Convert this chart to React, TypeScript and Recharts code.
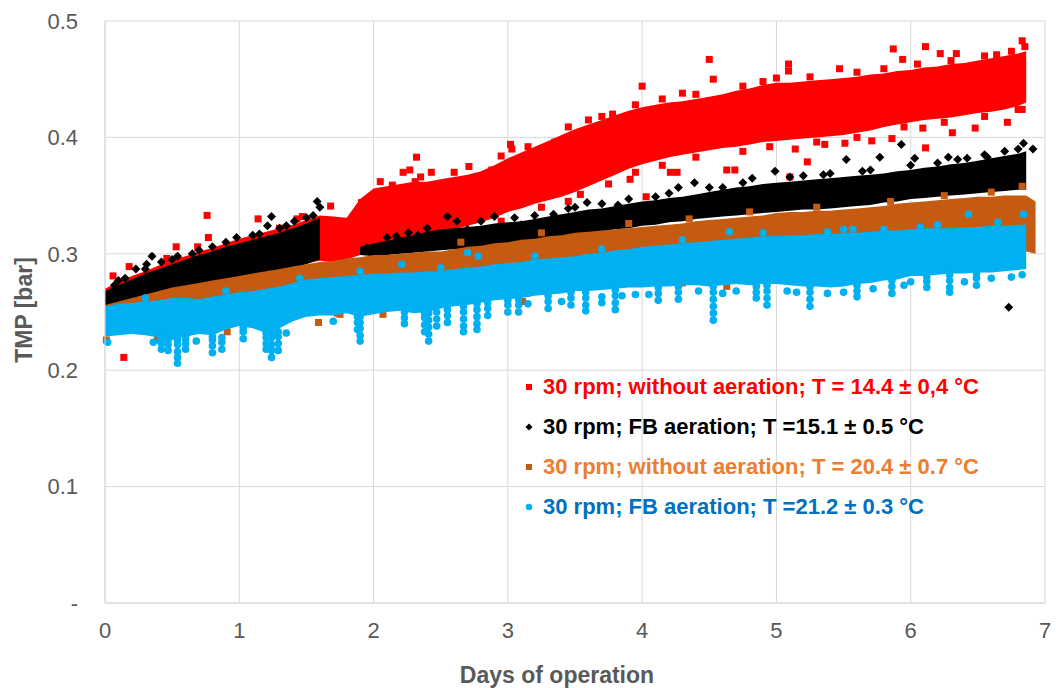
import React from 'react';
import { ComposedChart, Area, Scatter, XAxis, YAxis, CartesianGrid, Label } from 'recharts';

// ---- data ----
const DAYS = [
  0.0, 0.1, 0.2, 0.3, 0.4, 0.5, 0.6, 0.7, 0.8, 0.9,
  1.0, 1.1, 1.2, 1.3, 1.4, 1.5, 1.6, 1.7, 1.8, 1.9,
  2.0, 2.1, 2.2, 2.3, 2.4, 2.5, 2.6, 2.7, 2.8, 2.9,
  3.0, 3.1, 3.2, 3.3, 3.4, 3.5, 3.6, 3.7, 3.8, 3.9,
  4.0, 4.1, 4.2, 4.3, 4.4, 4.5, 4.6, 4.7, 4.8, 4.9,
  5.0, 5.1, 5.2, 5.3, 5.4, 5.5, 5.6, 5.7, 5.8, 5.9,
  6.0, 6.1, 6.2, 6.3, 6.4, 6.5, 6.6, 6.7, 6.8, 6.86, 6.93,
];

// dense core of each series (lower / upper edge)
const RED_LO = [
  0.250, 0.254, 0.258, 0.261, 0.264, 0.267, 0.270, 0.273, 0.275, 0.278,
  0.280, 0.282, 0.285, 0.287, 0.289, 0.292, 0.294, 0.293, 0.295, 0.299,
  0.303, 0.306, 0.309, 0.311, 0.314, 0.318, 0.321, 0.324, 0.327, 0.331,
  0.336, 0.339, 0.343, 0.346, 0.349, 0.353, 0.358, 0.363, 0.368, 0.373,
  0.377, 0.380, 0.383, 0.385, 0.387, 0.389, 0.391, 0.392, 0.394, 0.396,
  0.397, 0.398, 0.399, 0.400, 0.401, 0.402, 0.404, 0.406, 0.409, 0.411,
  0.413, 0.415, 0.416, 0.417, 0.419, 0.421, 0.422, 0.424, 0.427, 0.430, null,
];
const RED_HI = [
  0.270, 0.276, 0.281, 0.285, 0.290, 0.295, 0.298, 0.302, 0.305, 0.309,
  0.313, 0.316, 0.319, 0.322, 0.325, 0.329, 0.333, 0.332, 0.331, 0.347,
  0.356, 0.358, 0.360, 0.362, 0.362, 0.364, 0.366, 0.368, 0.371, 0.376,
  0.382, 0.387, 0.392, 0.397, 0.402, 0.407, 0.411, 0.415, 0.419, 0.423,
  0.426, 0.428, 0.430, 0.431, 0.433, 0.435, 0.437, 0.440, 0.442, 0.445,
  0.447, 0.447, 0.448, 0.449, 0.450, 0.451, 0.452, 0.454, 0.455, 0.457,
  0.458, 0.460, 0.461, 0.463, 0.464, 0.466, 0.468, 0.470, 0.472, 0.474, null,
];
const BLACK_LO = [
  0.252, 0.256, 0.259, 0.262, 0.265, 0.267, 0.269, 0.271, 0.273, 0.276,
  0.278, 0.280, 0.282, 0.285, 0.288, 0.291, 0.295, null, null, 0.299,
  0.298, 0.299, 0.300, 0.301, 0.302, 0.303, 0.304, 0.305, 0.306, 0.307,
  0.308, 0.309, 0.311, 0.313, 0.314, 0.316, 0.318, 0.319, 0.321, 0.322,
  0.324, 0.325, 0.327, 0.328, 0.330, 0.331, 0.332, 0.333, 0.334, 0.335,
  0.336, 0.337, 0.338, 0.338, 0.339, 0.340, 0.341, 0.342, 0.344, 0.345,
  0.347, 0.348, 0.349, 0.350, 0.351, 0.352, 0.353, 0.354, 0.355, 0.355, null,
];
const BLACK_HI = [
  0.268, 0.273, 0.278, 0.283, 0.287, 0.291, 0.295, 0.299, 0.302, 0.306,
  0.309, 0.312, 0.315, 0.318, 0.322, 0.326, 0.331, null, null, 0.306,
  0.309, 0.311, 0.314, 0.316, 0.319, 0.321, 0.322, 0.323, 0.324, 0.326,
  0.327, 0.328, 0.330, 0.332, 0.334, 0.336, 0.338, 0.339, 0.341, 0.343,
  0.345, 0.346, 0.348, 0.349, 0.351, 0.353, 0.355, 0.357, 0.358, 0.360,
  0.361, 0.362, 0.363, 0.364, 0.365, 0.366, 0.367, 0.368, 0.369, 0.371,
  0.372, 0.374, 0.375, 0.377, 0.378, 0.380, 0.382, 0.384, 0.386, 0.388, null,
];
const BROWN_LO = [
  0.238, 0.240, 0.241, 0.242, 0.243, 0.244, 0.245, 0.244, 0.246, 0.248,
  0.250, 0.250, 0.252, 0.254, 0.257, 0.260, 0.261, 0.262, 0.263, 0.263,
  0.264, 0.265, 0.266, 0.266, 0.268, 0.269, 0.271, 0.272, 0.273, 0.275,
  0.276, 0.278, 0.279, 0.280, 0.282, 0.283, 0.284, 0.285, 0.287, 0.288,
  0.289, 0.290, 0.291, 0.292, 0.293, 0.294, 0.295, 0.296, 0.297, 0.298,
  0.298, 0.299, 0.299, 0.300, 0.300, 0.301, 0.301, 0.302, 0.303, 0.304,
  0.305, 0.306, 0.306, 0.307, 0.307, 0.308, 0.308, 0.309, 0.309, 0.302, 0.300,
];
const BROWN_HI = [
  0.256, 0.259, 0.262, 0.265, 0.268, 0.271, 0.273, 0.275, 0.277, 0.279,
  0.281, 0.283, 0.285, 0.287, 0.289, 0.291, 0.293, 0.294, 0.296, 0.297,
  0.299, 0.299, 0.300, 0.301, 0.302, 0.302, 0.304, 0.306, 0.307, 0.309,
  0.310, 0.312, 0.313, 0.315, 0.316, 0.318, 0.319, 0.320, 0.321, 0.322,
  0.323, 0.324, 0.325, 0.326, 0.328, 0.329, 0.330, 0.331, 0.332, 0.333,
  0.335, 0.336, 0.336, 0.337, 0.337, 0.338, 0.339, 0.340, 0.341, 0.343,
  0.344, 0.345, 0.346, 0.347, 0.348, 0.349, 0.349, 0.350, 0.350, 0.350, 0.345,
];
const BLUE_LO = [
  0.229, 0.230, 0.231, 0.230, 0.228, 0.226, 0.229, 0.231, 0.230, 0.235,
  0.238, 0.236, 0.232, 0.236, 0.242, 0.246, 0.247, 0.247, 0.249, 0.246,
  0.248, 0.250, 0.251, 0.249, 0.250, 0.253, 0.255, 0.256, 0.258, 0.260,
  0.261, 0.262, 0.264, 0.265, 0.266, 0.268, 0.268, 0.269, 0.270, 0.271,
  0.271, 0.272, 0.272, 0.273, 0.273, 0.272, 0.273, 0.274, 0.273, 0.274,
  0.274, 0.273, 0.272, 0.272, 0.271, 0.272, 0.274, 0.275, 0.277, 0.278,
  0.281, 0.281, 0.282, 0.283, 0.283, 0.284, 0.284, 0.285, 0.286, 0.287, null,
];
const BLUE_HI = [
  0.255, 0.257, 0.258, 0.259, 0.260, 0.262, 0.262, 0.261, 0.263, 0.265,
  0.267, 0.268, 0.270, 0.272, 0.275, 0.278, 0.279, 0.280, 0.281, 0.282,
  0.283, 0.283, 0.284, 0.284, 0.285, 0.285, 0.287, 0.288, 0.289, 0.291,
  0.292, 0.293, 0.295, 0.296, 0.297, 0.298, 0.300, 0.301, 0.303, 0.304,
  0.306, 0.307, 0.308, 0.309, 0.310, 0.311, 0.312, 0.313, 0.314, 0.315,
  0.315, 0.316, 0.316, 0.317, 0.317, 0.318, 0.318, 0.319, 0.320, 0.320,
  0.321, 0.322, 0.322, 0.322, 0.323, 0.323, 0.324, 0.324, 0.325, 0.325, null,
];

// individual scattered readings around the dense core [day, TMP]
const RED_POINTS: [number, number][] = [
  [0.14, 0.211], [0.06, 0.281], [0.18, 0.289], [0.46, 0.296], [0.53, 0.306], [0.69, 0.306],
  [0.76, 0.333], [0.77, 0.314], [1.14, 0.330], [1.25, 0.316], [1.30, 0.322], [1.43, 0.330],
  [1.47, 0.332], [1.68, 0.341], [1.91, 0.344], [2.14, 0.359], [2.22, 0.370], [2.27, 0.372],
  [2.31, 0.362], [2.32, 0.383], [2.43, 0.370], [2.71, 0.375], [2.88, 0.372], [3.02, 0.394],
  [3.03, 0.390], [3.09, 0.379], [3.35, 0.396], [3.60, 0.415], [3.78, 0.420], [4.00, 0.444],
  [4.30, 0.438], [4.50, 0.467], [4.53, 0.450], [4.90, 0.448], [5.09, 0.463], [5.09, 0.457],
  [5.47, 0.459], [5.87, 0.476], [5.94, 0.467], [6.11, 0.478], [6.22, 0.472], [6.34, 0.472],
  [6.64, 0.471], [6.83, 0.483], [3.54, 0.351], [3.91, 0.364], [4.03, 0.349], [4.21, 0.370],
  [4.26, 0.370], [4.63, 0.372], [4.69, 0.372], [5.10, 0.366], [5.14, 0.390], [5.23, 0.379],
  [5.36, 0.394], [5.51, 0.395], [5.71, 0.397], [5.86, 0.399], [6.09, 0.408], [6.11, 0.391],
  [6.31, 0.404], [6.48, 0.408], [6.72, 0.413], [6.83, 0.424],
  [2.05, 0.362], [2.35, 0.366], [2.60, 0.370], [2.95, 0.384], [3.15, 0.392], [3.45, 0.409],
  [3.70, 0.418], [3.95, 0.428], [4.15, 0.433], [4.40, 0.437], [4.75, 0.444], [5.00, 0.451],
  [5.25, 0.452], [5.60, 0.456], [5.80, 0.459], [6.05, 0.463], [6.30, 0.466], [6.55, 0.470],
  [6.75, 0.474], [6.85, 0.478], [2.05, 0.300], [2.40, 0.310], [2.65, 0.318], [2.95, 0.328],
  [3.25, 0.340], [3.45, 0.345], [3.75, 0.360], [3.95, 0.370], [4.15, 0.376], [4.40, 0.383],
  [4.75, 0.388], [4.95, 0.392], [5.30, 0.396], [5.60, 0.400], [5.95, 0.409], [6.25, 0.413],
  [6.55, 0.418], [6.80, 0.424],
];
const BLACK_POINTS: [number, number][] = [
  [0.07, 0.273], [0.15, 0.279], [0.23, 0.287], [0.31, 0.291], [0.35, 0.298], [0.42, 0.293],
  [0.54, 0.298], [0.65, 0.300], [0.80, 0.306], [0.98, 0.314], [1.10, 0.316], [1.21, 0.324],
  [1.24, 0.332], [1.30, 0.322], [1.41, 0.328], [1.50, 0.331], [1.58, 0.345], [1.60, 0.340],
  [1.95, 0.305], [2.17, 0.315], [2.26, 0.318], [2.33, 0.316], [2.55, 0.332], [2.62, 0.328],
  [2.70, 0.321], [2.90, 0.332], [3.10, 0.325], [3.20, 0.333], [3.34, 0.334], [3.50, 0.340],
  [3.59, 0.344], [3.70, 0.343], [3.82, 0.342], [4.10, 0.349], [4.27, 0.357], [4.39, 0.361],
  [4.60, 0.357], [4.82, 0.365], [4.99, 0.371], [5.20, 0.367], [5.40, 0.369], [5.52, 0.381],
  [5.64, 0.371], [5.77, 0.383], [5.93, 0.394], [6.03, 0.382], [6.20, 0.378], [6.28, 0.383],
  [6.42, 0.382], [6.57, 0.383], [6.70, 0.388], [6.84, 0.395], [6.91, 0.390], [6.73, 0.254],
  [0.10, 0.277], [0.30, 0.287], [0.50, 0.295], [0.70, 0.303], [0.90, 0.310], [1.15, 0.317],
  [1.35, 0.324], [1.55, 0.333], [2.10, 0.314], [2.40, 0.322], [2.80, 0.328], [3.05, 0.331],
  [3.45, 0.339], [3.90, 0.347], [4.20, 0.352], [4.50, 0.357], [4.75, 0.361], [5.10, 0.366],
  [5.35, 0.368], [5.70, 0.372], [6.00, 0.376], [6.35, 0.381], [6.55, 0.385], [6.80, 0.390],
];
const BROWN_POINTS: [number, number][] = [
  [0.01, 0.226], [0.39, 0.226], [0.45, 0.229], [0.61, 0.232], [0.91, 0.233], [1.03, 0.242],
  [1.59, 0.241], [1.73, 0.249], [1.75, 0.248], [2.07, 0.248], [2.17, 0.254], [3.11, 0.259],
  [3.14, 0.266], [4.30, 0.275], [4.63, 0.272], [5.00, 0.278], [5.99, 0.286], [6.83, 0.358],
  [2.65, 0.310], [3.25, 0.318], [3.90, 0.326], [4.35, 0.330], [4.80, 0.336], [5.30, 0.340],
  [5.85, 0.345], [6.25, 0.350], [6.60, 0.353],
];
const BLUE_POINTS: [number, number][] = [
  [0.02, 0.224], [0.36, 0.224], [0.42, 0.223], [0.42, 0.218], [0.47, 0.222], [0.47, 0.217],
  [0.54, 0.222], [0.54, 0.216], [0.54, 0.211], [0.54, 0.206], [0.60, 0.223], [0.60, 0.218],
  [0.68, 0.225], [0.80, 0.226], [0.80, 0.221], [0.80, 0.215], [0.87, 0.224], [0.87, 0.218],
  [1.03, 0.233], [1.03, 0.227], [1.20, 0.228], [1.20, 0.223], [1.20, 0.218], [1.24, 0.228],
  [1.24, 0.222], [1.24, 0.217], [1.24, 0.211], [1.29, 0.229], [1.29, 0.223], [1.29, 0.217],
  [1.35, 0.232], [1.70, 0.242], [1.88, 0.241], [1.88, 0.235], [1.90, 0.241], [1.90, 0.236],
  [1.90, 0.230], [1.90, 0.225], [2.23, 0.245], [2.23, 0.240], [2.38, 0.245], [2.38, 0.239],
  [2.38, 0.233], [2.41, 0.243], [2.41, 0.237], [2.41, 0.231], [2.41, 0.225], [2.47, 0.244],
  [2.47, 0.238], [2.55, 0.247], [2.55, 0.241], [2.67, 0.250], [2.67, 0.244], [2.67, 0.238],
  [2.67, 0.233], [2.77, 0.252], [2.77, 0.246], [2.77, 0.240], [2.77, 0.235], [2.85, 0.253],
  [2.85, 0.247], [3.00, 0.256], [3.00, 0.250], [3.08, 0.256], [3.08, 0.250], [3.15, 0.257],
  [3.30, 0.259], [3.30, 0.253], [3.40, 0.259], [3.47, 0.262], [3.47, 0.256], [3.58, 0.262],
  [3.58, 0.256], [3.58, 0.251], [3.70, 0.263], [3.70, 0.258], [3.80, 0.264], [3.80, 0.258],
  [3.80, 0.252], [3.85, 0.264], [3.95, 0.265], [4.05, 0.265], [4.12, 0.266], [4.12, 0.260],
  [4.27, 0.267], [4.27, 0.261], [4.42, 0.268], [4.53, 0.267], [4.53, 0.261], [4.53, 0.255],
  [4.53, 0.249], [4.53, 0.243], [4.60, 0.266], [4.70, 0.268], [4.85, 0.267], [4.85, 0.262],
  [4.93, 0.268], [4.93, 0.262], [4.93, 0.256], [5.08, 0.268], [5.15, 0.267], [5.25, 0.267],
  [5.25, 0.261], [5.25, 0.255], [5.38, 0.266], [5.50, 0.267], [5.60, 0.268], [5.60, 0.263],
  [5.72, 0.270], [5.86, 0.272], [5.86, 0.266], [5.95, 0.273], [6.00, 0.276], [6.12, 0.276],
  [6.12, 0.271], [6.29, 0.277], [6.29, 0.271], [6.29, 0.267], [6.40, 0.276], [6.49, 0.279],
  [6.49, 0.273], [6.60, 0.279], [6.75, 0.280], [6.83, 0.282],
  // readings where the spikes leave the dense core
  [0.42, 0.227], [0.47, 0.226], [0.54, 0.226], [0.60, 0.227], [0.80, 0.229], [0.87, 0.228],
  [1.03, 0.237], [1.20, 0.232], [1.24, 0.232], [1.29, 0.233], [1.88, 0.246], [1.90, 0.246],
  [2.23, 0.250], [2.38, 0.249], [2.41, 0.249], [2.47, 0.250], [2.55, 0.252], [2.67, 0.255],
  [2.77, 0.257], [2.85, 0.258], [3.00, 0.260], [3.08, 0.261], [3.30, 0.264], [3.47, 0.267],
  [3.58, 0.267], [3.80, 0.269], [4.12, 0.271], [4.27, 0.272], [4.53, 0.272], [4.85, 0.272],
  [4.93, 0.273], [5.25, 0.272], [5.60, 0.273], [5.86, 0.277], [6.12, 0.280], [6.29, 0.282],
  [6.49, 0.283],
  // readings on the upper edge
  [2.21, 0.291], [2.70, 0.301], [2.78, 0.298], [4.65, 0.319], [5.38, 0.319], [5.57, 0.321],
  [5.80, 0.321], [6.07, 0.323], [6.43, 0.334], [6.84, 0.334], [0.30, 0.262], [0.90, 0.268],
  [1.45, 0.279], [1.90, 0.285], [2.50, 0.288], [3.20, 0.298], [3.70, 0.304], [4.30, 0.312],
  [4.90, 0.318], [5.50, 0.321], [6.20, 0.325], [6.65, 0.327],
];

const X_TICKS = [0, 1, 2, 3, 4, 5, 6, 7];
const Y_TICKS = [0, 0.1, 0.2, 0.3, 0.4, 0.5];

const LEGEND_LABELS = [
  '30 rpm; without aeration; T = 14.4 ± 0,4 °C',
  '30 rpm; FB aeration; T =15.1 ± 0.5 °C',
  '30 rpm; without aeration; T = 20.4 ± 0.7 °C',
  '30 rpm; FB aeration; T =21.2 ± 0.3 °C',
];
const X_LABEL = 'Days of operation';
const Y_LABEL = 'TMP [bar]';

// ---- styling ----
const FONT = '"Liberation Sans", Arial, Helvetica, sans-serif';
const C_RED = '#FF0000';
const C_BLACK = '#000000';
const C_BROWN = '#C55A11';
const C_BLUE = '#00B0F0';
const LEGEND_TEXT_COLORS = ['#FF0000', '#000000', '#ED7D31', '#0070C0'];
const GRID = '#d9d9d9';

const range = (lo: (number | null)[], hi: (number | null)[], i: number) =>
  lo[i] == null || hi[i] == null ? null : [lo[i], hi[i]];

const table = DAYS.map((d, i) => ({
  d,
  red: range(RED_LO, RED_HI, i),
  black: range(BLACK_LO, BLACK_HI, i),
  brown: range(BROWN_LO, BROWN_HI, i),
  blue: range(BLUE_LO, BLUE_HI, i),
}));

const toPts = (arr: [number, number][]) => arr.map(([d, v]) => ({ d, v }));

const squareShape = (color: string, s: number) => (p: any) =>
  p.cx == null ? <g /> : <rect x={p.cx - s / 2} y={p.cy - s / 2} width={s} height={s} fill={color} />;
const diamondShape = (color: string, r: number) => (p: any) =>
  p.cx == null ? <g /> : (
    <polygon
      points={`${p.cx},${p.cy - r} ${p.cx + r},${p.cy} ${p.cx},${p.cy + r} ${p.cx - r},${p.cy}`}
      fill={color}
    />
  );
const circleShape = (color: string, r: number) => (p: any) =>
  p.cx == null ? <g /> : <circle cx={p.cx} cy={p.cy} r={r} fill={color} />;

const markerFor = (i: number) => {
  if (i === 0) return <svg width={8} height={8}><rect x={1} y={1} width={6} height={6} fill={C_RED} /></svg>;
  if (i === 1) return <svg width={8} height={8}><polygon points="4,0.5 7.5,4 4,7.5 0.5,4" fill={C_BLACK} /></svg>;
  if (i === 2) return <svg width={8} height={8}><rect x={1} y={1} width={6} height={6} fill={C_BROWN} /></svg>;
  return <svg width={8} height={8}><circle cx={4} cy={4} r={3.2} fill={C_BLUE} /></svg>;
};

export default function App() {
  return (
    <div style={{ position: 'absolute', left: 0, top: 0, width: 1056, height: 688, background: '#ffffff', fontFamily: FONT }}>
      <ComposedChart
        width={1056}
        height={688}
        data={table}
        margin={{ top: 21, right: 11, bottom: 0, left: 0 }}
      >
        <CartesianGrid stroke={GRID} strokeWidth={1} />
        <XAxis
          dataKey="d"
          type="number"
          domain={[0, 7]}
          ticks={X_TICKS}
          interval={0}
          height={85}
          tickSize={0}
          tickMargin={19}
          axisLine={{ stroke: GRID }}
          tick={{ fontSize: 22, fill: '#595959', fontFamily: FONT }}
        >
          <Label
            content={(props: any) => {
              const vb = props.viewBox || { x: 105, y: 603 };
              return (
                <text x={vb.x + 452} y={vb.y + 80} textAnchor="middle" fontSize={23} fontWeight="bold" fill="#595959" fontFamily={FONT}>
                  {X_LABEL}
                </text>
              );
            }}
          />
        </XAxis>
        <YAxis
          type="number"
          domain={[0, 0.5]}
          ticks={Y_TICKS}
          interval={0}
          width={105}
          allowDataOverflow
          tickSize={0}
          tickMargin={27}
          axisLine={{ stroke: GRID }}
          tickFormatter={(v: number) => (v === 0 ? '-' : v.toFixed(1))}
          tick={{ fontSize: 22, fill: '#595959', fontFamily: FONT }}
        >
          <Label
            content={(props: any) => {
              const vb = props.viewBox || { x: 0, y: 21, height: 582 };
              const cy = vb.y + vb.height / 2 - 2;
              const cx = vb.x + 32;
              return (
                <text x={cx} y={cy} transform={`rotate(-90 ${cx} ${cy})`} textAnchor="middle" fontSize={23} fontWeight="bold" fill="#595959" fontFamily={FONT}>
                  {Y_LABEL}
                </text>
              );
            }}
          />
        </YAxis>

        <Area type="linear" dataKey="red" stroke="none" fill={C_RED} fillOpacity={1} isAnimationActive={false} dot={false} activeDot={false} legendType="none" zIndex={101} />
        <Scatter data={toPts(RED_POINTS)} dataKey="v" shape={squareShape(C_RED, 7)} isAnimationActive={false} legendType="none" zIndex={102} />
        <Area type="linear" dataKey="black" stroke="none" fill={C_BLACK} fillOpacity={1} isAnimationActive={false} dot={false} activeDot={false} legendType="none" zIndex={103} />
        <Scatter data={toPts(BLACK_POINTS)} dataKey="v" shape={diamondShape(C_BLACK, 4.5)} isAnimationActive={false} legendType="none" zIndex={104} />
        <Area type="linear" dataKey="brown" stroke="none" fill={C_BROWN} fillOpacity={1} isAnimationActive={false} dot={false} activeDot={false} legendType="none" zIndex={105} />
        <Scatter data={toPts(BROWN_POINTS)} dataKey="v" shape={squareShape(C_BROWN, 7)} isAnimationActive={false} legendType="none" zIndex={106} />
        <Area type="linear" dataKey="blue" stroke="none" fill={C_BLUE} fillOpacity={1} isAnimationActive={false} dot={false} activeDot={false} legendType="none" zIndex={107} />
        <Scatter data={toPts(BLUE_POINTS)} dataKey="v" shape={circleShape(C_BLUE, 3.8)} isAnimationActive={false} legendType="none" zIndex={108} />
      </ComposedChart>

      <div style={{ position: 'absolute', left: 525, top: 367, fontFamily: FONT, fontWeight: 'bold', fontSize: 22, lineHeight: '40px', whiteSpace: 'nowrap' }}>
        {LEGEND_LABELS.map((t, i) => (
          <div key={i} style={{ display: 'flex', alignItems: 'center', height: 40, color: LEGEND_TEXT_COLORS[i] }}>
            <span style={{ display: 'inline-block', width: 18, height: 8, lineHeight: 0 }}>{markerFor(i)}</span>
            <span>{t}</span>
          </div>
        ))}
      </div>
    </div>
  );
}
